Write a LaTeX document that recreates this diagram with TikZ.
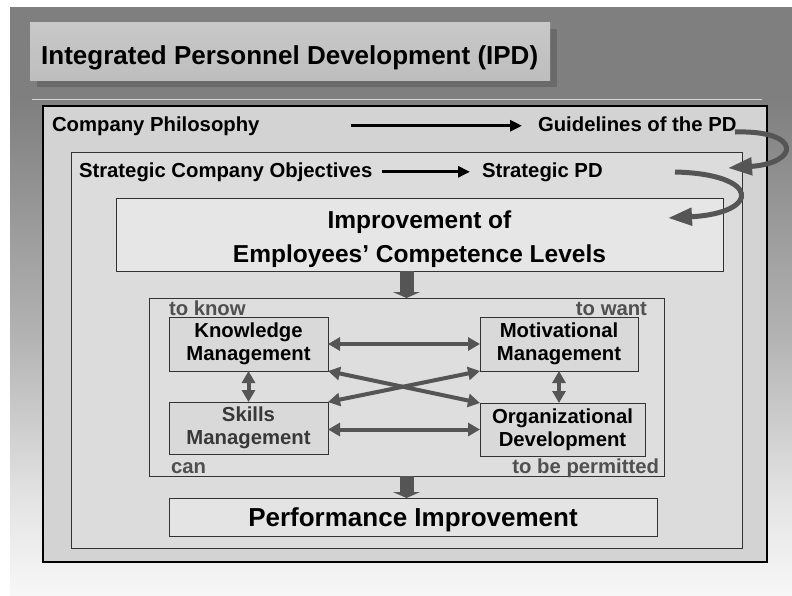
\documentclass[tikz,border=0pt]{standalone}
\usepackage{fontspec}
\setmainfont{Liberation Sans}
\usetikzlibrary{arrows.meta}
\definecolor{bgA}{RGB}{127,127,127}
\definecolor{bgB}{RGB}{180,180,180}
\definecolor{bgC}{RGB}{228,228,228}
\definecolor{bgD}{RGB}{247,247,247}
\definecolor{ttlA}{RGB}{200,200,200}
\definecolor{ttlB}{RGB}{244,244,244}
\definecolor{ttlC}{RGB}{190,190,190}
\definecolor{shadowc}{RGB}{106,106,106}
\definecolor{lineL}{RGB}{214,214,214}
\definecolor{outerF}{RGB}{211,211,211}
\definecolor{secF}{RGB}{220,220,220}
\definecolor{impF}{RGB}{230,230,230}
\definecolor{innF}{RGB}{222,222,222}
\definecolor{nodeF}{RGB}{217,217,217}
\definecolor{perfF}{RGB}{228,228,228}
\definecolor{arrgray}{RGB}{85,85,85}
\definecolor{lblgray}{RGB}{80,80,80}
\definecolor{bord}{RGB}{50,50,50}
\begin{document}
\begin{tikzpicture}[x=1pt,y=-1pt,
  box/.style={draw=bord, line width=1pt, inner sep=0pt, outer sep=0pt},
  txt/.style={font=\fontsize{20.3}{23}\selectfont\bfseries, inner sep=0pt, outer sep=0pt},
  nodetxt/.style={txt, align=center},
  grl/.style={txt, text=lblgray},
  blk/.style={draw=black, line width=3pt, -{Triangle[length=12pt,width=11pt]}},
  garr/.style={draw=arrgray, line width=4pt, {Triangle[length=12pt,width=13pt]}-{Triangle[length=12pt,width=13pt]}},
  curv/.style={draw=arrgray, line width=5pt, -{Triangle[length=24pt,width=17pt]}},
  blockarr/.style={draw=arrgray, line width=14pt, -{Triangle[length=6pt,width=27pt]}}
]
\useasboundingbox (0,0) rectangle (792,595);
% background
\fill[white] (0,0) rectangle (792,595);
\fill[bgA] (10,7) rectangle (792,100);
\shade[top color=bgA, bottom color=bgB] (10,99.5) rectangle (792,340);
\shade[top color=bgB, bottom color=bgC] (10,339.5) rectangle (792,500);
\shade[top color=bgC, bottom color=bgD] (10,499.5) rectangle (792,595);
% title
\fill[shadowc] (37,29) rectangle (557,87);
\node[inner sep=0pt, outer sep=0pt, minimum width=520pt, minimum height=58pt,
  top color=ttlA, middle color=ttlB, bottom color=ttlC] (title) at (290,51) {};
\node[font=\fontsize{26}{30}\selectfont\bfseries, inner sep=0pt, anchor=base west] (ttl) at (41,64) {Integrated Personnel Development (IPD)};
\draw[lineL, line width=1pt] (32,99) -- (762,99);
% boxes
\node[box, draw=black, line width=1.2pt, fill=outerF, minimum width=724pt, minimum height=456pt] (outer) at (405,334) {};
\node[box, fill=secF, minimum width=671pt, minimum height=396pt] (sec) at (406.5,350) {};
\node[box, fill=impF, minimum width=607pt, minimum height=73pt] (imp) at (419.5,234.5) {};
\node[box, fill=innF, minimum width=515pt, minimum height=178pt] (inner) at (406.5,387) {};
\node[box, fill=perfF, minimum width=488pt, minimum height=38pt] (perf) at (413,517) {};
% top texts
\node[txt, anchor=base west] (cp) at (52,131) {Company Philosophy};
\node[txt, anchor=base west] (gpd) at (538,131) {Guidelines of the PD};
\node[txt, anchor=base west] (sco) at (79,177) {Strategic Company Objectives};
\node[txt, anchor=base west] (spd) at (482,177) {Strategic PD};
\draw[blk] ([xshift=91pt]cp.east) -- ([xshift=-16pt]cp.east -| gpd.west);
\draw[blk] ([xshift=10pt]sco.east) -- ([xshift=-12pt]sco.east -| spd.west);
% curved arrows
\coordinate (c1s) at (735,132);
\coordinate (c1e) at (728,168);
\draw[curv] (c1s) .. controls (802,130) and (800,163) .. (c1e);
\coordinate (c2s) at (675,172);
\coordinate (c2e) at (668,218);
\draw[curv] (c2s) .. controls (761,174) and (761,213) .. (c2e);
% improvement text
\node[font=\fontsize{24.5}{28}\selectfont\bfseries, inner sep=0pt, anchor=base] (imp1) at (419.5,228) {Improvement of};
\node[font=\fontsize{24.5}{28}\selectfont\bfseries, inner sep=0pt, anchor=base] (imp2) at (419.5,262) {Employees’ Competence Levels};
\node[font=\fontsize{26}{30}\selectfont\bfseries, inner sep=0pt, anchor=base] (perft) at (413,526) {Performance Improvement};
% block arrows
\draw[blockarr] (imp.south -| inner.north) -- (inner.north);
\draw[blockarr] (inner.south) -- (perf.north -| inner.south);
% inner nodes
\node[box, draw=bord, fill=nodeF, nodetxt, minimum width=159pt, minimum height=54pt] (km) at (248.5,344) {Knowledge\\Management};
\node[box, draw=bord, fill=nodeF, nodetxt, minimum width=158pt, minimum height=54pt] (mm) at (559,344) {Motivational\\Management};
\node[box, draw=bord, fill=nodeF, nodetxt, text=black!78, minimum width=159pt, minimum height=52pt] (sm) at (248.5,428) {Skills\\Management};
\node[box, draw=bord, fill=nodeF, nodetxt, minimum width=165pt, minimum height=53pt] (od) at (562.5,429.5) {Organizational\\Development};
% labels
\node[grl, anchor=base west] (lk) at (169,315) {to know};
\node[grl, anchor=base east] (lw) at (647,315) {to want};
\node[grl, anchor=base west] (lc) at (171,473) {can};
\node[grl, anchor=base east] (lp) at (659,473) {to be permitted};
% connectors
\draw[garr] (km.east) -- (mm.west);
\draw[garr] (sm.east |- od.west) -- (od.west);
\draw[garr] (km.south) -- (sm.north);
\draw[garr] (mm.south) -- (mm.south |- od.north);
\draw[garr] (km.south east) -- (od.north west);
\draw[garr] (sm.north east) -- (mm.south west);
\end{tikzpicture}
\end{document}
